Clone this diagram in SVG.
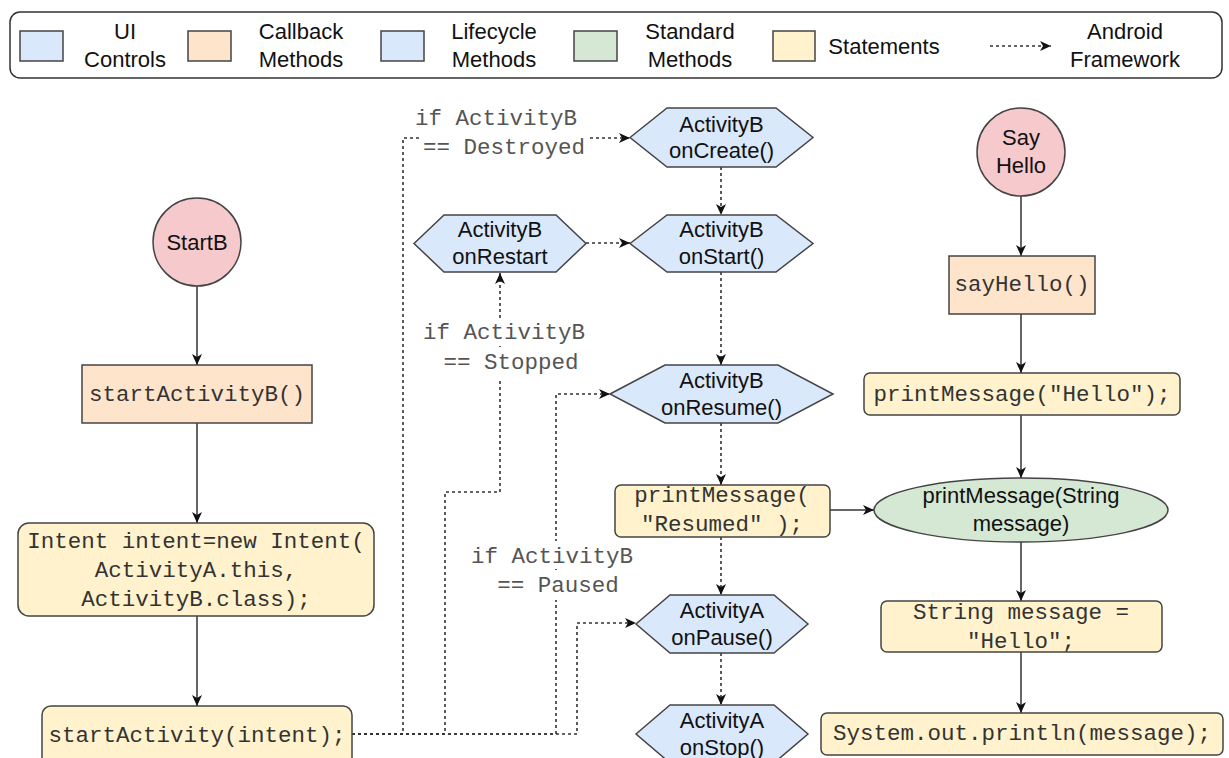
<svg xmlns="http://www.w3.org/2000/svg" width="1229" height="758" viewBox="0 0 1229 758">
<style>
.sans{font-family:"Liberation Sans",Arial,sans-serif;font-size:22px;fill:#111;text-anchor:middle}
.mono{font-family:"Liberation Mono","Courier New",monospace;font-size:22.5px;fill:#333;text-anchor:middle}
.lbl{font-family:"Liberation Mono","Courier New",monospace;font-size:22.5px;fill:#555;text-anchor:middle}
.stk{stroke:#444;stroke-width:1.5}
.circ{fill:#f6cacc}
.cb{fill:#ffe4cc}
.lc{fill:#dae8fc}
.std{fill:#d5e8d4}
.st{fill:#fff2cc}
.solid{fill:none;stroke:#333;stroke-width:1.5;marker-end:url(#arr)}
.dash{fill:none;stroke:#333;stroke-width:1.6;stroke-dasharray:3 3;marker-end:url(#arr)}
.bg{fill:#ffffff}
</style>
<defs>
<marker id="arr" markerWidth="12" markerHeight="10" refX="11" refY="5" orient="auto" markerUnits="userSpaceOnUse">
<path d="M0,0 L11,5 L0,10 L3,5 Z" fill="#111"/>
</marker>
</defs>
<rect width="1229" height="758" fill="#ffffff"/>

<g id="legend">
<rect x="10" y="12" width="1212" height="66" rx="10" fill="#ffffff" stroke="#333" stroke-width="1.5"/>
<rect x="20" y="31" width="43" height="30" class="lc stk"/>
<text class="sans" x="125" y="39">UI</text>
<text class="sans" x="125" y="67">Controls</text>
<rect x="188" y="31" width="43" height="30" class="cb stk"/>
<text class="sans" x="301" y="39">Callback</text>
<text class="sans" x="301" y="67">Methods</text>
<rect x="381" y="31" width="43" height="30" class="lc stk"/>
<text class="sans" x="494" y="39">Lifecycle</text>
<text class="sans" x="494" y="67">Methods</text>
<rect x="574" y="31" width="43" height="30" class="std stk"/>
<text class="sans" x="690" y="39">Standard</text>
<text class="sans" x="690" y="67">Methods</text>
<rect x="773" y="31" width="42" height="30" class="st stk"/>
<text class="sans" x="884" y="54">Statements</text>
<path d="M990,46 H1051" class="dash"/>
<text class="sans" x="1125" y="39">Android</text>
<text class="sans" x="1125" y="67">Framework</text>
</g>

<g id="connectors">
<path d="M197,286 V365" class="solid"/>
<path d="M197,423 V523" class="solid"/>
<path d="M197,616 V706" class="solid"/>
<path d="M1021,196 V256" class="solid"/>
<path d="M1021,314 V373" class="solid"/>
<path d="M1021,415 V478" class="solid"/>
<path d="M1021,542 V601" class="solid"/>
<path d="M1021,652 V713" class="solid"/>
<path d="M830,510 H874" class="solid"/>
<path d="M721,167 V215" class="dash"/>
<path d="M721,272 V365" class="dash"/>
<path d="M721,423 V485" class="dash"/>
<path d="M721,537 V595" class="dash"/>
<path d="M721,653 V705" class="dash"/>
<path d="M586,243 H630" class="dash"/>
<path d="M352,734 H403 V138 H630" class="dash"/>
<path d="M352,734 H445 V492 H500 V273" class="dash"/>
<path d="M352,734 H556 V394 H610" class="dash"/>
<path d="M352,734 H577 V623 H636" class="dash"/>
<g id="edge-labels">
<rect x="413" y="105" width="168" height="27" class="bg"/>
<rect x="420" y="133" width="168" height="28" class="bg"/>
<text class="lbl" x="496" y="125">if ActivityB</text>
<text class="lbl" x="504" y="154">== Destroyed</text>
<rect x="420" y="318" width="168" height="28" class="bg"/>
<rect x="440" y="347" width="142" height="34" class="bg"/>
<text class="lbl" x="504" y="339">if ActivityB</text>
<text class="lbl" x="511" y="369">== Stopped</text>
<rect x="467" y="541" width="170" height="28" class="bg"/>
<rect x="493" y="570" width="130" height="30" class="bg"/>
<text class="lbl" x="552" y="563">if ActivityB</text>
<text class="lbl" x="558" y="592">== Paused</text>
</g>
</g>

<g id="startB">
<circle cx="197" cy="242" r="44" class="circ stk"/>
<text class="sans" x="197" y="250">StartB</text>
</g>
<g id="startActivityB">
<rect x="82" y="365" width="230" height="58" class="cb stk"/>
<text class="mono" x="197" y="401">startActivityB()</text>
</g>
<g id="intent">
<rect x="18" y="523" width="356" height="93" rx="11" class="st stk"/>
<text class="mono" x="196" y="548">Intent intent=new Intent(</text>
<text class="mono" x="196" y="577">ActivityA.this,</text>
<text class="mono" x="196" y="606">ActivityB.class);</text>
</g>
<g id="startActivity">
<rect x="42" y="706" width="310" height="62" rx="9" class="st stk"/>
<text class="mono" x="197" y="742">startActivity(intent);</text>
</g>

<g id="onCreate">
<path d="M630,137.5 L667,108 L776,108 L813,137.5 L776,167 L667,167 Z" class="lc stk"/>
<text class="sans" x="721.5" y="132">ActivityB</text>
<text class="sans" x="721.5" y="158">onCreate()</text>
</g>
<g id="onRestart">
<path d="M414,243.5 L444,215 L556,215 L586,243.5 L556,272 L444,272 Z" class="lc stk"/>
<text class="sans" x="500" y="237">ActivityB</text>
<text class="sans" x="500" y="264">onRestart</text>
</g>
<g id="onStart">
<path d="M630,243.5 L667,215 L776,215 L813,243.5 L776,272 L667,272 Z" class="lc stk"/>
<text class="sans" x="721.5" y="237">ActivityB</text>
<text class="sans" x="721.5" y="264">onStart()</text>
</g>
<g id="onResume">
<path d="M610,394 L665,365 L778,365 L833,394 L778,423 L665,423 Z" class="lc stk"/>
<text class="sans" x="721.5" y="388">ActivityB</text>
<text class="sans" x="721.5" y="415">onResume()</text>
</g>
<g id="printResumed">
<rect x="615" y="485" width="215" height="52" rx="6" class="st stk"/>
<text class="mono" x="722" y="502">printMessage(</text>
<text class="mono" x="722" y="531">"Resumed" );</text>
</g>
<g id="onPause">
<path d="M636,624 L670,595 L774,595 L808,624 L774,653 L670,653 Z" class="lc stk"/>
<text class="sans" x="722" y="618">ActivityA</text>
<text class="sans" x="722" y="645">onPause()</text>
</g>
<g id="onStop">
<path d="M636,734 L670,705 L774,705 L808,734 L774,763 L670,763 Z" class="lc stk"/>
<text class="sans" x="722" y="728">ActivityA</text>
<text class="sans" x="722" y="755">onStop()</text>
</g>

<g id="sayHelloCircle">
<circle cx="1021" cy="152" r="44" class="circ stk"/>
<text class="sans" x="1021" y="145">Say</text>
<text class="sans" x="1021" y="173">Hello</text>
</g>
<g id="sayHello">
<rect x="949" y="256" width="146" height="58" class="cb stk"/>
<text class="mono" x="1022" y="291">sayHello()</text>
</g>
<g id="printHello">
<rect x="864" y="373" width="316" height="42" rx="6" class="st stk"/>
<text class="mono" x="1022" y="401">printMessage("Hello");</text>
</g>
<g id="printMessageMethod">
<ellipse cx="1021" cy="510" rx="147" ry="32" class="std stk"/>
<text class="sans" x="1021" y="503">printMessage(String</text>
<text class="sans" x="1021" y="531">message)</text>
</g>
<g id="stringMessage">
<rect x="881" y="601" width="281" height="51" rx="6" class="st stk"/>
<text class="mono" x="1021" y="619">String message =</text>
<text class="mono" x="1021" y="648">"Hello";</text>
</g>
<g id="println">
<rect x="821" y="713" width="402" height="42" rx="6" class="st stk"/>
<text class="mono" x="1022" y="740">System.out.println(message);</text>
</g>
</svg>
